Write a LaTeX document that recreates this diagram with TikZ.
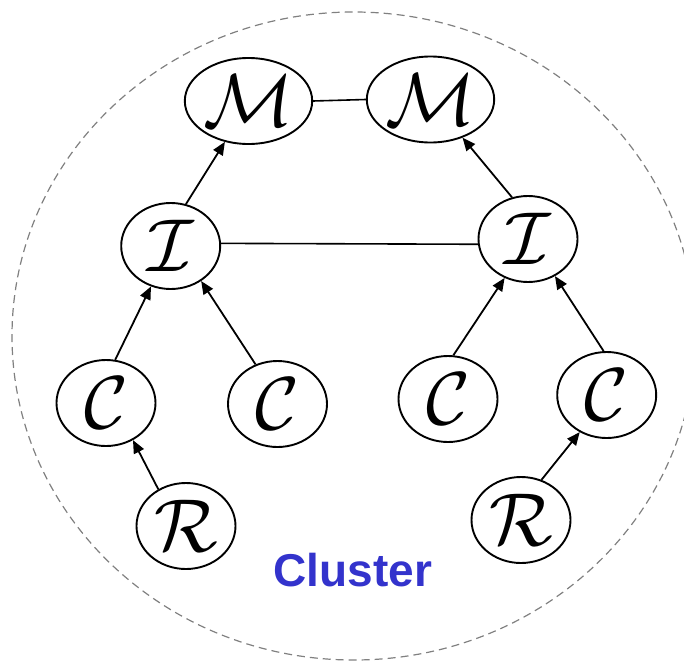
\RequirePackage{fix-cm}
\documentclass[tikz,border=0pt]{standalone}
\usepackage{fontspec}
\newfontfamily\clusterfont{Liberation Sans}
\usetikzlibrary{shapes.geometric,arrows.meta}
\definecolor{clusterblue}{RGB}{51,51,204}
\definecolor{dashgray}{RGB}{128,128,128}
\begin{document}
\begin{tikzpicture}[x=1pt,y=-1pt,
  var/.style={draw, ellipse, line width=1.9pt, minimum width=99pt, minimum height=86pt, inner sep=0pt, font=\fontsize{75}{75}\selectfont},
  dep/.style={line width=1.8pt, -{Triangle[length=13pt,width=11pt]}},
  link/.style={line width=1.6pt},
  ]
\clip (0,0) rectangle (684,661);
\draw[dashgray, line width=1.2pt, dash pattern=on 8pt off 5pt] (353.7,336) ellipse [x radius=341.7, y radius=324];
\node[var] (M1) at (248.5,101) {$\mathcal{M}$};
\node[var] (M2) at (430.5,99.5) {$\mathcal{M}$};
\node[var] (I1) at (170.7,246) {$\mathcal{I}$};
\node[var] (I2) at (528,239) {$\mathcal{I}$};
\node[var] (C1) at (106,403) {$\mathcal{C}$};
\node[var] (C2) at (277.5,404) {$\mathcal{C}$};
\node[var] (C3) at (448,399) {$\mathcal{C}$};
\node[var] (C4) at (606.7,395) {$\mathcal{C}$};
\node[var] (R1) at (186,526) {$\mathcal{R}$};
\node[var] (R2) at (521,520) {$\mathcal{R}$};
\draw[link] (M1.east) -- (M2.west);
\draw[link] (I1.3) -- (I2.186);
\draw[dep] (I1.70) -- (M1.240);
\draw[dep] (I2.111) -- (M2.310);
\draw[dep] (C1.78) -- (I1.244);
\draw[dep] (C2.119) -- (I1.311);
\draw[dep] (C3.83) -- (I2.239);
\draw[dep] (C4.94) -- (I2.306);
\draw[dep] (R1.127) -- (C1.306);
\draw[dep] (R2.63) -- (C4.234);
\node[font=\clusterfont\bfseries\fontsize{46}{46}\selectfont, text=clusterblue, anchor=base, inner sep=0pt] (cl) at (353,586) {Cluster};
\end{tikzpicture}
\end{document}
